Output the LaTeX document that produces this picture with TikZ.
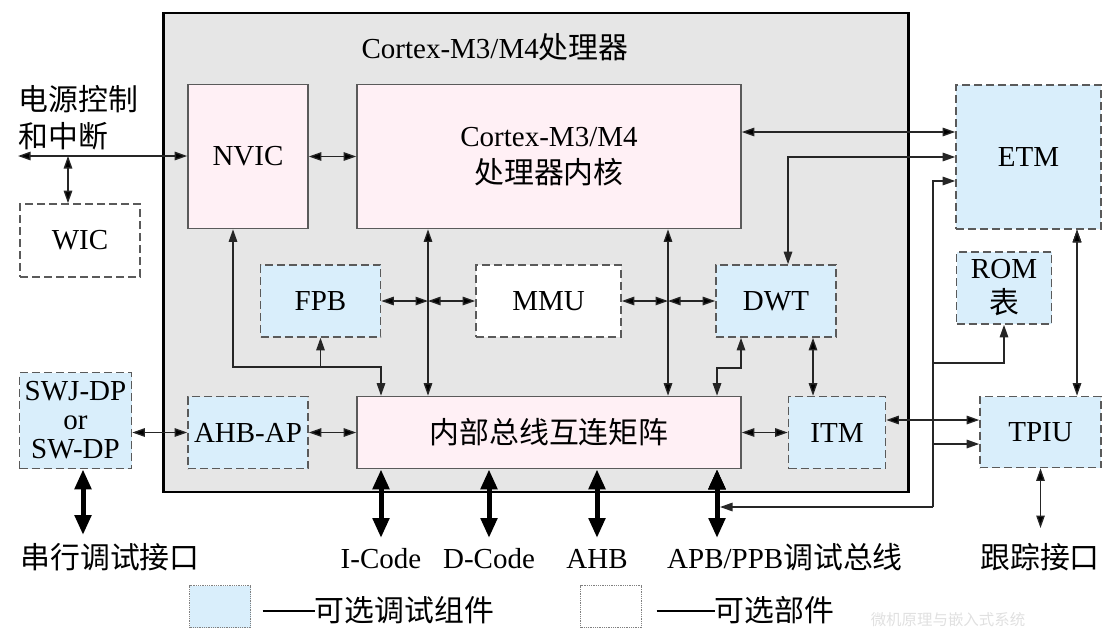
\documentclass[tikz,border=0pt]{standalone}
\usepackage{fontspec}
\setmainfont{Liberation Serif}
\newfontfamily\cjk[Scale=1.03]{Noto Sans CJK SC}
\usepackage{tikz}
\usetikzlibrary{arrows.meta,positioning,calc}
\definecolor{optblue}{HTML}{D9EEFB}
\definecolor{corepink}{HTML}{FFF0F5}
\definecolor{cpugray}{HTML}{E6E6E6}
\definecolor{edgegray}{HTML}{5A5A5A}
\tikzset{
  every picture/.style = {
    x = 1pt,
    y = -1pt,
    >={Triangle[length=12.5pt,width=8.5pt]},
    line width = 1.3pt,
  }
  ,
  every node/.style = {
    font = \fontsize{29}{37}\selectfont
  }
  ,
  cpu-frame/.style = {
    rectangle,
    draw = black,
    line width = 2.4pt,
    fill = cpugray,
    inner sep = 0pt
  }
  , % solid blocks of the processor
  core-block/.style = {
    rectangle,
    draw = edgegray,
    line width = 1.6pt,
    fill = corepink,
    align = center,
    inner sep = 0pt
  }
  , % optional debug blocks
  opt-block/.style = {
    rectangle,
    draw = edgegray,
    line width = 1.6pt,
    dash pattern = on 8pt off 4pt,
    fill = optblue,
    align = center,
    inner sep = 0pt
  }
  , % optional blocks
  part-block/.style = {
    opt-block,
    fill = white
  }
  ,
  link/.style = {
    draw = black!85,
    line width = 1.3pt
  }
  ,
  bus-link/.style = {
    draw = black,
    line width = 5pt,
    {Triangle[length=20pt,width=16pt]}-{Triangle[length=20pt,width=16pt]}
  }
  , % labels of the ports
  label-io/.style = {
    anchor = base,
    inner sep = 0pt
  }
  ,
  cjk-text/.style = {
    font = \fontsize{29}{37}\selectfont\cjk
  }
  ,
  legend-box/.style = {
    rectangle,
    draw = gray,
    densely dotted,
    line width = 0.8pt,
    minimum width = 61pt,
    minimum height = 42pt
  }
}

\begin{document}
\begin{tikzpicture}
\useasboundingbox (0,0) rectangle (1113,638);

\node [cpu-frame, minimum width=745pt, minimum height=479pt] (cpu) at (536,252.5) {};
\node (cpu-title) at (495,47) {Cortex-M3/M4{\cjk 处理器}};

\node [core-block, minimum width=120pt, minimum height=144pt] (nvic) at (248,156.5) {NVIC};
\node [core-block, minimum width=384pt, minimum height=144pt] (core) at (549,156.5) {Cortex-M3/M4\\{\cjk 处理器内核}};
\node [opt-block, minimum width=120pt, minimum height=72pt] (fpb) at (320.5,301) {FPB};
\node [part-block, minimum width=145pt, minimum height=72pt] (mmu) at (548.5,301) {MMU};
\node [opt-block, minimum width=120pt, minimum height=72pt] (dwt) at (776,301) {DWT};
\node [opt-block, minimum width=120pt, minimum height=72pt] (ahbap) at (248,432.5) {AHB-AP};
\node [core-block, cjk-text, minimum width=384pt, minimum height=72pt] (bus) at (549,432.5) {内部总线互连矩阵};
\node [opt-block, minimum width=97pt, minimum height=72pt] (itm) at (837,432.5) {ITM};

\node [opt-block, minimum width=145pt, minimum height=144pt] (etm) at (1028.5,157) {ETM};
\node [opt-block, minimum width=95pt, minimum height=72pt] (rom) at (1004,288) {ROM\\[-2pt]{\cjk 表}};
\node [opt-block, minimum width=121pt, minimum height=71pt] (tpiu) at (1040.5,432) {TPIU};

\node [part-block, minimum width=120pt, minimum height=73pt] (wic) at (80,240.5) {WIC};
\node [opt-block, minimum width=112pt, minimum height=96pt, font=\fontsize{29}{29}\selectfont] (swj) at (75.5,420.5) {SWJ-DP\\or\\SW-DP};
\node [cjk-text, anchor=west, align=left, inner sep=0pt] (pwr-label) at (18,118) {电源控制\\和中断};

% tap points
\coordinate (pwr) at (18,156);
\coordinate (wic-tap) at (68,156);
\coordinate (etm-hi) at (850,132);
\coordinate (dwt-up) at (788,157);
\coordinate (bus-l) at (428,301);
\coordinate (bus-r) at (668,301);
\coordinate (nvic-down) at (233,367);
\coordinate (nvic-in) at (381,367);
\coordinate (dwt-down) at (741,368);
\coordinate (dwt-in) at (717,368);
\coordinate (itm-up) at (813,367);
\coordinate (itm-out) at (930,420);
\coordinate (etm-down) at (1077,300);
\coordinate (trace) at (933,507);
\coordinate (etm-tap) at (933,181);
\coordinate (rom-tap) at (933,363);
\coordinate (tpiu-tap) at (933,444);
\coordinate (apb-in) at (720,507);
\coordinate (trace-port) at (1040.5,528);
\coordinate (serial-port) at (83,535);
\coordinate (icode) at (381,538);
\coordinate (dcode) at (489,538);
\coordinate (ahb) at (597,538);
\coordinate (apb) at (717,538);

\path [link, <->] (pwr) edge (pwr -| nvic.west)
  (wic-tap) edge (wic-tap |- wic.north)
  (nvic) edge (core)
  (etm-hi -| core.east) edge (etm-hi -| etm.west)
  (bus-l |- core.south) edge (bus-l |- bus.north)
  (bus-r |- core.south) edge (bus-r |- bus.north)
  (fpb) edge (bus-l)
  (bus-l) edge (mmu)
  (mmu) edge (bus-r)
  (bus-r) edge (dwt)
  (itm-up |- dwt.south) edge (itm-up |- itm.north)
  (bus) edge (itm)
  (ahbap) edge (bus)
  (swj.east |- ahbap) edge (ahbap)
  (itm-out -| itm.east) edge (itm-out -| tpiu.west)
  (etm-down |- etm.south) edge (etm-down |- tpiu.north)
  (tpiu) edge (trace-port);

\draw [link, <->] (dwt-up |- dwt.north) -- (dwt-up) -- (dwt-up -| etm.west);
\draw [link, <->] (nvic-down |- nvic.south) -- (nvic-down) -- (nvic-in) -- (nvic-in |- bus.north);
\draw [link, ->] (fpb.south |- nvic-down) -- (fpb.south);
\draw [link, <->] (dwt-down |- dwt.south) -- (dwt-down) -- (dwt-in) -- (dwt-in |- bus.north);

\draw [link, ->] (trace) -- (etm-tap) -- (etm-tap -| etm.west);
\draw [link, ->] (trace) -- (apb-in);
\draw [link, ->] (rom-tap) -| (rom.south);
\draw [link, ->] (tpiu-tap) -- (tpiu-tap -| tpiu.west);

\path [bus-link] (serial-port |- swj.south) edge (serial-port)
  (icode |- bus.south) edge (icode)
  (dcode |- bus.south) edge (dcode)
  (ahb |- bus.south) edge (ahb)
  (apb |- bus.south) edge (apb);

\node [label-io, cjk-text] (serial-label) at (110,568) {串行调试接口};
\node [label-io] (icode-label) at (381,568) {I-Code};
\node [label-io] (dcode-label) at (489,568) {D-Code};
\node [label-io] (ahb-label) at (597,568) {AHB};
\node [label-io] (apb-label) at (785,568) {APB/PPB{\cjk 调试总线}};
\node [label-io, cjk-text] (trace-label) at (1040,568) {跟踪接口};

\node [legend-box, fill=optblue] (leg-opt) at (220,606.5) {};
\node [cjk-text, anchor=base west, inner sep=0pt] (leg-opt-text) at (262,621) {\rule[9pt]{52pt}{2.5pt}可选调试组件};
\node [legend-box, fill=white] (leg-part) at (611,606.5) {};
\node [cjk-text, anchor=base west, inner sep=0pt] (leg-part-text) at (656,621) {\rule[9pt]{58pt}{2.5pt}可选部件};
\node [text=black!12, font=\fontsize{15}{15}\selectfont\cjk] (mark) at (948,620) {微机原理与嵌入式系统};
\end{tikzpicture}
\end{document}
